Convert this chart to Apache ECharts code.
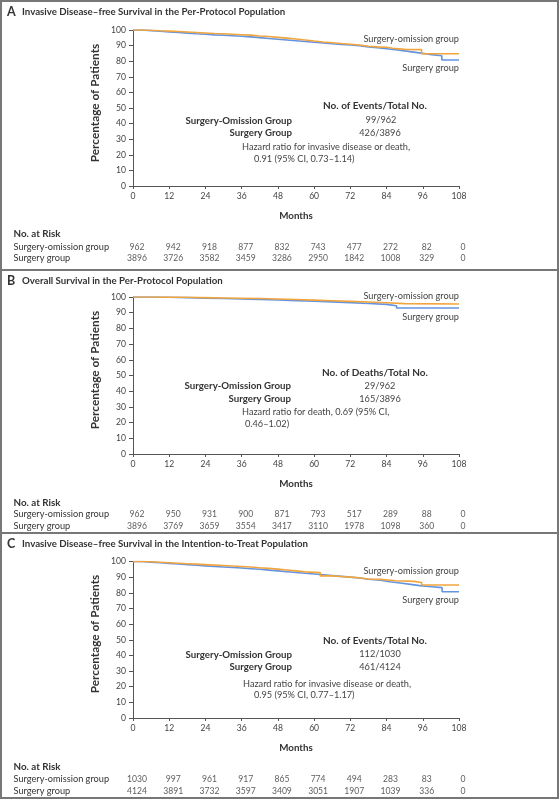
<!DOCTYPE html>
<html>
<head>
<meta charset="utf-8">
<script src="https://cdn.jsdelivr.net/npm/echarts@6/dist/echarts.min.js"></script>
<style>
html, body { margin: 0; padding: 0; background: #fff; }
#main { width: 559px; height: 800px; }
</style>
</head>
<body>
<div id="main"></div>
<script>
// months shown on the x axis and in the at-risk table
var months = [0, 12, 24, 36, 48, 60, 72, 84, 96, 108]
// at-risk rows, bottom to top
var riskRows = ['Surgery group', 'Surgery-omission group']

// A - invasive disease-free survival, per-protocol
var omitA = [[0, 100], [3, 99.8], [6, 99.5], [9, 99.3], [12, 99.0], [15, 98.7], [18, 98.4], [21, 98.1], [24, 97.8], [27, 97.6], [30, 97.3], [33, 97.0], [36, 96.7], [39, 96.2], [42, 95.8], [45, 95.3], [48, 94.8], [51, 94.2], [54, 93.6], [57, 92.9], [60, 92.3], [63, 91.8], [66, 91.3], [69, 90.9], [72, 90.4], [75, 89.6], [78, 89.2], [81, 88.9], [84, 88.3], [86, 87.6], [90, 87.4], [95.6, 84.8], [108, 84.8]]
var surgA = [[0, 100], [3, 99.6], [6, 99.2], [9, 98.8], [12, 98.4], [15, 98.0], [18, 97.6], [21, 97.3], [24, 96.9], [27, 96.6], [30, 96.3], [33, 96.0], [36, 95.6], [39, 95.1], [42, 94.6], [45, 94.1], [48, 93.6], [51, 93.1], [54, 92.6], [57, 92.1], [60, 91.7], [63, 91.2], [66, 90.8], [69, 90.4], [72, 89.9], [75, 89.2], [78, 88.6], [81, 88.0], [84, 87.3], [87, 86.6], [90, 85.8], [93, 85.0], [96, 84.2], [99, 83.5], [102.3, 80.8], [108, 80.8]]
var riskOmitA = [962, 942, 918, 877, 832, 743, 477, 272, 82, 0]
var riskSurgA = [3896, 3726, 3582, 3459, 3286, 2950, 1842, 1008, 329, 0]

// B - overall survival, per-protocol
var omitB = [[0, 100], [6, 99.9], [12, 99.8], [18, 99.6], [24, 99.4], [30, 99.2], [36, 99.0], [42, 98.7], [48, 98.4], [54, 98.0], [60, 97.6], [66, 97.2], [72, 96.8], [78, 96.3], [84, 95.8], [90, 95.5], [108, 95.5]]
var surgB = [[0, 100], [6, 99.8], [12, 99.6], [18, 99.3], [24, 99.0], [30, 98.7], [36, 98.4], [42, 98.1], [48, 97.7], [54, 97.3], [60, 96.9], [66, 96.4], [72, 95.9], [78, 95.3], [84, 94.4], [87.3, 93.0], [108, 93.0]]
var riskOmitB = [962, 950, 931, 900, 871, 793, 517, 289, 88, 0]
var riskSurgB = [3896, 3769, 3659, 3554, 3417, 3110, 1978, 1098, 360, 0]

// C - invasive disease-free survival, intention-to-treat
var omitC = [[0, 100], [3, 99.8], [6, 99.5], [9, 99.2], [12, 98.9], [15, 98.6], [18, 98.3], [21, 98.0], [24, 97.7], [27, 97.4], [30, 97.1], [33, 96.8], [36, 96.5], [39, 96.0], [42, 95.6], [45, 95.1], [48, 94.6], [51, 94.0], [54, 93.4], [57, 92.9], [62, 90.8], [66, 90.4], [69, 90.0], [72, 89.6], [75, 88.8], [78, 88.6], [82, 87.7], [87, 87.3], [93, 86.6], [95.6, 85.0], [108, 85.0]]
var surgC = [[0, 100], [3, 99.6], [6, 99.2], [9, 98.8], [12, 98.4], [15, 98.0], [18, 97.6], [21, 97.2], [24, 96.8], [27, 96.5], [30, 96.2], [33, 95.8], [36, 95.4], [39, 95.0], [42, 94.5], [45, 94.0], [48, 93.5], [51, 93.0], [54, 92.5], [57, 92.0], [60, 91.5], [63, 91.0], [66, 90.5], [69, 90.0], [72, 89.5], [75, 88.7], [78, 88.0], [82, 87.1], [85, 86.3], [88.5, 85.4], [92, 84.6], [95, 83.9], [99, 83.3], [102.4, 80.7], [108, 80.7]]
var riskOmitC = [1030, 997, 961, 917, 865, 774, 494, 283, 83, 0]
var riskSurgC = [4124, 3891, 3732, 3597, 3409, 3051, 1907, 1039, 336, 0]

var FONT = 'Lato, "Open Sans", sans-serif'
var ORANGE = '#f1a53e'
var BLUE = '#6494df'
var INK = '#333'
var SOFT = '#444'

var panels = [
  { plotTop: 30, plotH: 156, riskTop: 241, riskH: 23, omit: omitA, surg: surgA, riskOmit: riskOmitA, riskSurg: riskSurgA },
  { plotTop: 297, plotH: 157, riskTop: 508, riskH: 24, omit: omitB, surg: surgB, riskOmit: riskOmitB, riskSurg: riskSurgB },
  { plotTop: 561.5, plotH: 156.5, riskTop: 773, riskH: 24, omit: omitC, surg: surgC, riskOmit: riskOmitC, riskSurg: riskSurgC }
]

var grid = []
var xAxis = []
var yAxis = []
var series = []

panels.forEach(function (p, i) {
  var g = i * 2
  grid.push({ left: 133, width: 326, top: p.plotTop, height: p.plotH })
  grid.push({ left: 133, width: 326, top: p.riskTop, height: p.riskH })

  xAxis.push({
    gridIndex: g,
    type: 'value',
    min: 0,
    max: 108,
    interval: 12,
    name: 'Months',
    nameLocation: 'middle',
    nameGap: 25,
    nameTextStyle: { fontFamily: FONT, fontWeight: 'bold', fontSize: 9.8, color: INK },
    axisLine: { lineStyle: { color: '#555', width: 1 } },
    axisTick: { length: 3, lineStyle: { color: '#555' } },
    axisLabel: { fontFamily: FONT, fontSize: 8.6, color: SOFT, margin: 6 },
    splitLine: { show: false }
  })
  xAxis.push({ gridIndex: g + 1, type: 'value', min: 0, max: 108, show: false })

  yAxis.push({
    gridIndex: g,
    type: 'value',
    min: 0,
    max: 100,
    interval: 10,
    axisLine: { show: true, lineStyle: { color: '#555', width: 1 } },
    axisTick: { show: true, length: 4, lineStyle: { color: '#555' } },
    axisLabel: { fontFamily: FONT, fontSize: 8.6, color: SOFT, margin: 7 },
    splitLine: { show: false }
  })
  yAxis.push({
    gridIndex: g + 1,
    type: 'category',
    data: riskRows,
    axisLine: { show: false },
    axisTick: { show: false },
    axisLabel: { interval: 0, align: 'left', margin: 119.5, fontFamily: FONT, fontSize: 9.2, color: INK }
  })

  series.push({
    type: 'line', xAxisIndex: g, yAxisIndex: g, step: 'end', symbol: 'none',
    data: p.surg, lineStyle: { color: BLUE, width: 1.6 }, itemStyle: { color: BLUE }
  })
  series.push({
    type: 'line', xAxisIndex: g, yAxisIndex: g, step: 'end', symbol: 'none',
    data: p.omit, lineStyle: { color: ORANGE, width: 1.6 }, itemStyle: { color: ORANGE }
  })

  var riskLabel = {
    show: true,
    position: 'inside',
    offset: [4, 0],
    fontFamily: FONT,
    fontSize: 8.6,
    color: INK,
    formatter: function (d) { return d.value[2] }
  }
  series.push({
    type: 'scatter', xAxisIndex: g + 1, yAxisIndex: g + 1, symbolSize: 1,
    itemStyle: { color: 'rgba(0,0,0,0)' }, label: riskLabel, silent: true,
    data: months.map(function (m, k) { return [m, riskRows[1], p.riskOmit[k]] })
  })
  series.push({
    type: 'scatter', xAxisIndex: g + 1, yAxisIndex: g + 1, symbolSize: 1,
    itemStyle: { color: 'rgba(0,0,0,0)' }, label: riskLabel, silent: true,
    data: months.map(function (m, k) { return [m, riskRows[0], p.riskSurg[k]] })
  })
})

function txt(text, x, y, align, weight, size, color) {
  return {
    type: 'text',
    silent: true,
    style: {
      text: text,
      x: x,
      y: y,
      textAlign: align,
      textVerticalAlign: 'middle',
      font: weight + ' ' + size + 'px ' + FONT,
      fill: color || INK
    }
  }
}

function yName(y) {
  return {
    type: 'text',
    silent: true,
    x: 95,
    y: y,
    rotation: Math.PI / 2,
    style: {
      text: 'Percentage of Patients',
      x: 0,
      y: 0,
      textAlign: 'center',
      textVerticalAlign: 'middle',
      font: 'bold 11.8px ' + FONT,
      fill: INK
    }
  }
}

function hline(y) {
  return { type: 'line', silent: true, shape: { x1: 0, y1: y, x2: 559, y2: y }, style: { stroke: '#777', lineWidth: 2 } }
}

var graphic = [
  { type: 'rect', silent: true, shape: { x: 1, y: 1, width: 557, height: 797 }, style: { fill: 'none', stroke: '#777', lineWidth: 2 } },
  hline(270),
  hline(533),

  // A
  txt('A', 7, 12, 'left', 'bold', 12.5),
  txt('Invasive Disease\u2013free Survival in the Per-Protocol Population', 22, 12, 'left', 'bold', 9.7),
  yName(103),
  txt('Surgery-omission group', 459, 39, 'right', 'normal', 9.2, SOFT),
  txt('Surgery group', 459, 68, 'right', 'normal', 9.2, SOFT),
  txt('No. of Events/Total No.', 375, 106, 'center', 'bold', 10),
  txt('Surgery-Omission Group', 292, 120.5, 'right', 'bold', 9.7),
  txt('Surgery Group', 292, 133, 'right', 'bold', 9.7),
  txt('99/962', 381, 120.5, 'center', 'normal', 9.2, SOFT),
  txt('426/3896', 380, 133, 'center', 'normal', 9.2, SOFT),
  txt('Hazard ratio for invasive disease or death,', 242, 147, 'left', 'normal', 9.2, SOFT),
  txt('0.91 (95% CI, 0.73\u20131.14)', 254, 159, 'left', 'normal', 9.2, SOFT),
  txt('No. at Risk', 13.5, 234, 'left', 'bold', 9.8),

  // B
  txt('B', 7, 281, 'left', 'bold', 12.5),
  txt('Overall Survival in the Per-Protocol Population', 22, 281, 'left', 'bold', 9.7),
  yName(370),
  txt('Surgery-omission group', 459, 295.7, 'right', 'normal', 9.2, SOFT),
  txt('Surgery group', 459, 316.7, 'right', 'normal', 9.2, SOFT),
  txt('No. of Deaths/Total No.', 375, 372.3, 'center', 'bold', 10),
  txt('Surgery-Omission Group', 291, 386, 'right', 'bold', 9.7),
  txt('Surgery Group', 291, 399, 'right', 'bold', 9.7),
  txt('29/962', 380, 386, 'center', 'normal', 9.2, SOFT),
  txt('165/3896', 380, 399, 'center', 'normal', 9.2, SOFT),
  txt('Hazard ratio for death, 0.69 (95% CI,', 242, 412, 'left', 'normal', 9.2, SOFT),
  txt('0.46\u20131.02)', 245, 424, 'left', 'normal', 9.2, SOFT),
  txt('No. at Risk', 13.5, 502.4, 'left', 'bold', 9.8),

  // C
  txt('C', 7, 544, 'left', 'bold', 12.5),
  txt('Invasive Disease\u2013free Survival in the Intention-to-Treat Population', 22, 544, 'left', 'bold', 9.7),
  yName(634),
  txt('Surgery-omission group', 459, 570.7, 'right', 'normal', 9.2, SOFT),
  txt('Surgery group', 459, 600.3, 'right', 'normal', 9.2, SOFT),
  txt('No. of Events/Total No.', 375, 640.7, 'center', 'bold', 10),
  txt('Surgery-Omission Group', 292, 654.5, 'right', 'bold', 9.7),
  txt('Surgery Group', 292, 667, 'right', 'bold', 9.7),
  txt('112/1030', 380, 654.5, 'center', 'normal', 9.2, SOFT),
  txt('461/4124', 380, 667, 'center', 'normal', 9.2, SOFT),
  txt('Hazard ratio for invasive disease or death,', 243, 683.6, 'left', 'normal', 9.2, SOFT),
  txt('0.95 (95% CI, 0.77\u20131.17)', 254, 695, 'left', 'normal', 9.2, SOFT),
  txt('No. at Risk', 13.5, 766.6, 'left', 'bold', 9.8)
]

var chart = echarts.init(document.getElementById('main'), null, { renderer: 'canvas' })
chart.setOption({
  animation: false,
  backgroundColor: '#fff',
  grid: grid,
  xAxis: xAxis,
  yAxis: yAxis,
  series: series,
  graphic: graphic
})
</script>
</body>
</html>
